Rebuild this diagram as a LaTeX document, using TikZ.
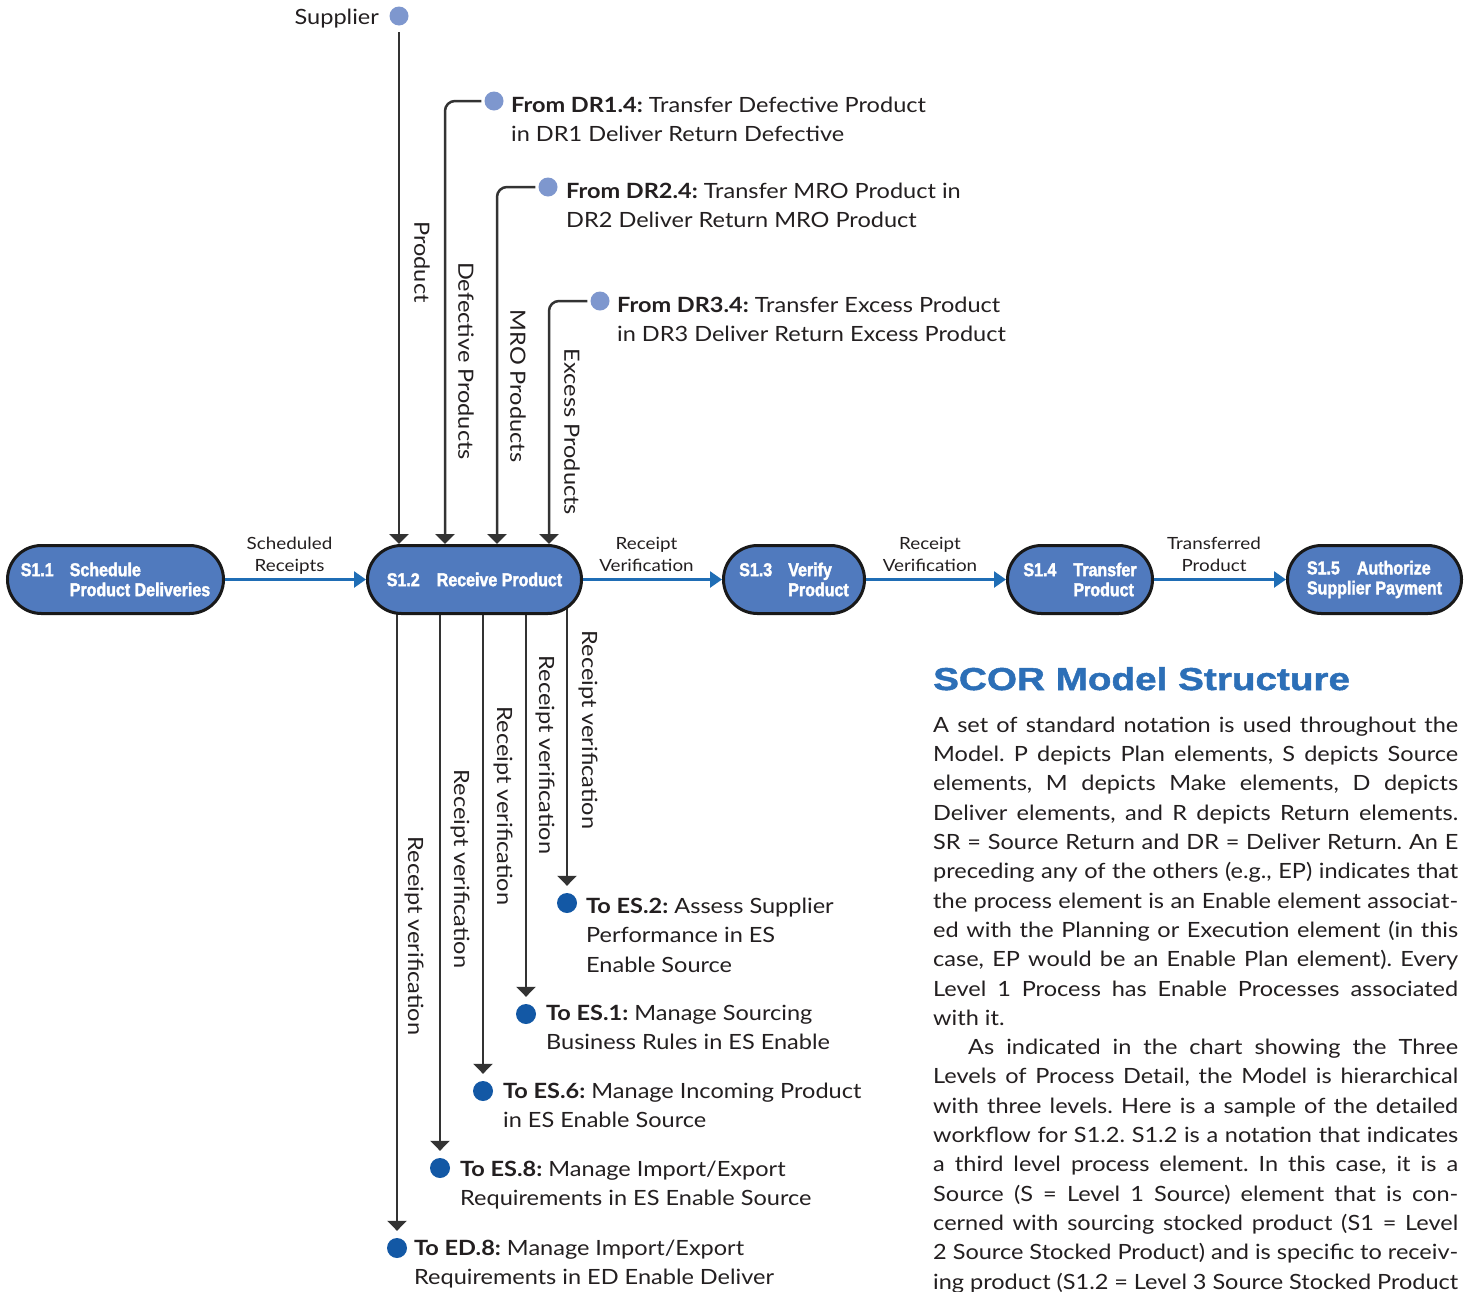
\documentclass[tikz,border=0pt]{standalone}
\usepackage{fontspec}
\setmainfont{Lato}[FakeStretch=1.12]
\newfontfamily\procfont[FakeStretch=0.86,FakeBold=2]{Liberation Sans Bold}
\newfontfamily\headfont[FakeStretch=1.22,FakeBold=1.5]{Liberation Sans Bold}
\usetikzlibrary{arrows.meta,backgrounds}
\frenchspacing

\definecolor{cProc}{RGB}{80,122,190}
\definecolor{cFlow}{RGB}{31,109,181}
\definecolor{cFeed}{RGB}{51,51,51}
\definecolor{cSrc}{RGB}{126,151,206}
\definecolor{cDst}{RGB}{19,88,165}
\definecolor{cHead}{RGB}{44,111,183}
\definecolor{cInk}{RGB}{35,31,32}

% one justified line of the column text
\newcommand\jl[1]{\makebox[525pt][s]{#1}\\}

\tikzset{
  proc/.style={draw=black!90, line width=3pt, fill=cProc, rounded corners=34pt,
    minimum height=68pt, inner sep=0pt, text=white,
    font=\procfont\fontsize{18.6}{20}\selectfont, align=left},
  flow/.style={draw=cFlow, line width=2.5pt, -{Triangle[length=12pt,width=16pt]}},
  feed/.style={draw=cFeed, line width=2.5pt, -{Triangle[length=10pt,width=19pt]}},
  srcdot/.style={circle, fill=cSrc, minimum size=19pt, inner sep=0pt},
  dstdot/.style={circle, fill=cDst, minimum size=20pt, inner sep=0pt},
  % multi-line texts are anchored at the baseline of their last line
  desc/.style={text=cInk, font=\fontsize{21}{29.5}\selectfont, align=left,
    inner sep=0pt, anchor=base west},
  flowlbl/.style={text=cInk, font=\fontsize{16.8}{22}\selectfont, align=center,
    inner sep=0pt, anchor=base, yshift=8pt, xshift=-6pt},
  sidelbl/.style={text=cInk, font=\fontsize{21}{25}\selectfont, rotate=-90,
    inner sep=0pt},
}

\begin{document}
\begin{tikzpicture}[x=1pt, y=-1pt]
\useasboundingbox (0,0) rectangle (1469,1291);

% process elements
\node[proc, minimum width=216pt] (s11) at (115.5,579.5)
  {\makebox[49pt][l]{S1.1}Schedule\\\hspace*{49pt}Product Deliveries};
\node[proc, minimum width=214pt] (s12) at (474.5,579.5)
  {\makebox[50pt][l]{S1.2}Receive Product};
\node[proc, minimum width=141pt] (s13) at (794,579.5)
  {\makebox[49pt][l]{S1.3}Verify\\\hspace*{49pt}Product};
\node[proc, minimum width=145pt] (s14) at (1080,579.5)
  {\makebox[50pt][l]{S1.4}Transfer\\\hspace*{50pt}Product};
\node[proc, minimum width=174pt] (s15) at (1374.5,579.5)
  {\makebox[50pt][l]{S1.5}Authorize\\Supplier Payment};

% main flow
\draw[flow] (s11.east) -- node[flowlbl] (f1) {Scheduled\\Receipts} (s12.west);
\draw[flow] (s12.east) -- node[flowlbl] (f2) {Receipt\\Verification} (s13.west);
\draw[flow] (s13.east) -- node[flowlbl] (f3) {Receipt\\Verification} (s14.west);
\draw[flow] (s14.east) -- node[flowlbl] (f4) {Transferred\\Product} (s15.west);

% inputs to S1.2
\node[srcdot] (supdot) at (399,16) {};
\node[desc, anchor=base east] (suptxt) at (379,24) {Supplier};
\node[srcdot] (dr1dot) at (494,101) {};
\node[desc] (dr1txt) at (511,141.5)
  {\textbf{From DR1.4:} Transfer Defective Product\\in DR1 Deliver Return Defective};
\node[srcdot] (dr2dot) at (548,187) {};
\node[desc] (dr2txt) at (566,227.5)
  {\textbf{From DR2.4:} Transfer MRO Product in\\DR2 Deliver Return MRO Product};
\node[srcdot] (dr3dot) at (600,301) {};
\node[desc] (dr3txt) at (617,341.5)
  {\textbf{From DR3.4:} Transfer Excess Product\\in DR3 Deliver Return Excess Product};

\draw[feed, shorten <=16pt] (supdot.center) -- (supdot |- s12.north);
\draw[feed, rounded corners=10pt, shorten <=3pt] (dr1dot.west) -| ([xshift=-29.5pt]s12.north);
\draw[feed, rounded corners=10pt, shorten <=3pt] (dr2dot.west) -| ([xshift=22.5pt]s12.north);
\draw[feed, rounded corners=10pt, shorten <=3pt] (dr3dot.west) -| ([xshift=74.5pt]s12.north);

\node[sidelbl] (lp1) at (422,262) {Product};
\node[sidelbl] (lp2) at (466,361) {Defective Products};
\node[sidelbl] (lp3) at (518,386) {MRO Products};
\node[sidelbl] (lp4) at (572,432) {Excess Products};

% outputs from S1.2
\node[dstdot] (es2dot) at (567,903) {};
\node[desc] (es2txt) at (586,972)
  {\textbf{To ES.2:} Assess Supplier\\Performance in ES\\Enable Source};
\node[dstdot] (es1dot) at (526,1014) {};
\node[desc] (es1txt) at (546,1049.5)
  {\textbf{To ES.1:} Manage Sourcing\\Business Rules in ES Enable};
\node[dstdot] (es6dot) at (483,1091) {};
\node[desc] (es6txt) at (503,1127.5)
  {\textbf{To ES.6:} Manage Incoming Product\\in ES Enable Source};
\node[dstdot] (es8dot) at (440,1168) {};
\node[desc] (es8txt) at (460,1205.5)
  {\textbf{To ES.8:} Manage Import/Export\\Requirements in ES Enable Source};
\node[dstdot] (ed8dot) at (397,1248) {};
\node[desc] (ed8txt) at (414,1284.5)
  {\textbf{To ED.8:} Manage Import/Export\\Requirements in ED Enable Deliver};

\begin{scope}[on background layer]
  \fill[white] (0,0) rectangle (1469,1291);
  \foreach \d in {es2dot,es1dot,es6dot,es8dot,ed8dot}
    \draw[feed, shorten >=7pt] (s12.center -| \d) -- (\d.north);
\end{scope}

\node[sidelbl] (lo1) at (414,936) {Receipt verification};
\node[sidelbl] (lo2) at (460,869) {Receipt verification};
\node[sidelbl] (lo3) at (503,806) {Receipt verification};
\node[sidelbl] (lo4) at (545,755) {Receipt verification};
\node[sidelbl] (lo5) at (588,730) {Receipt verification};

% explanatory column
\node[anchor=base west, inner sep=0pt, text=cHead,
  font=\headfont\fontsize{31.7}{36}\selectfont] (title) at (933,690) {SCOR Model Structure};
\node[desc, font=\fontsize{21}{29.3}\selectfont] (body) at (933,1289) {%
\jl{A set of standard notation is used throughout the}
\jl{Model. P depicts Plan elements, S depicts Source}
\jl{elements, M depicts Make elements, D depicts}
\jl{Deliver elements, and R depicts Return elements.}
\jl{SR = Source Return and DR = Deliver Return. An E}
\jl{preceding any of the others (e.g., EP) indicates that}
\jl{the process element is an Enable element associat-}
\jl{ed with the Planning or Execution element (in this}
\jl{case, EP would be an Enable Plan element). Every}
\jl{Level 1 Process has Enable Processes associated}
with it.\\
\jl{\hspace*{35pt}As indicated in the chart showing the Three}
\jl{Levels of Process Detail, the Model is hierarchical}
\jl{with three levels. Here is a sample of the detailed}
\jl{workflow for S1.2. S1.2 is a notation that indicates}
\jl{a third level process element. In this case, it is a}
\jl{Source (S = Level 1 Source) element that is con-}
\jl{cerned with sourcing stocked product (S1 = Level}
\jl{2 Source Stocked Product) and is specific to receiv-}
\makebox[525pt][s]{ing product (S1.2 = Level 3 Source Stocked Product}};
\end{tikzpicture}
\end{document}
